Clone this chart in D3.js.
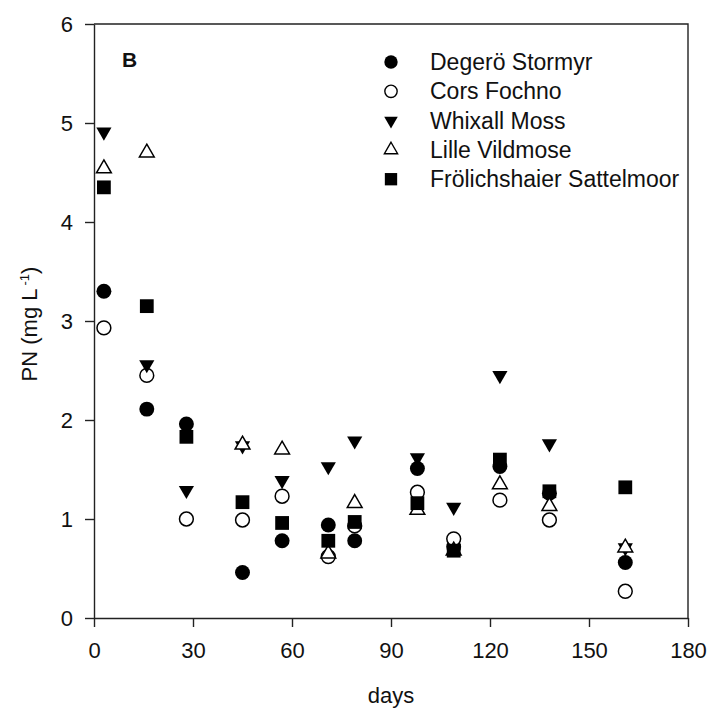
<!DOCTYPE html>
<html>
<head>
<meta charset="utf-8">
<script src="https://cdn.jsdelivr.net/npm/d3@7"></script>
<style>
  body { margin: 0; background: #fff; }
  svg text { font-family: "Liberation Sans", Arial, sans-serif; fill: #111; }
</style>
</head>
<body>
<div id="chart"></div>
<script>
// sampling days
var days = [3, 16, 28, 45, 57, 71, 79, 98, 109, 123, 138, 161];

// PN values per site (mg L-1), null = not visible in the figure
var degero = [3.30, 2.11, 1.96, 0.46, 0.78, 0.94, 0.78, 1.51, 0.72, 1.53, 1.26, 0.56];
var corsFochno = [2.93, 2.45, 1.00, 0.99, 1.23, 0.62, 0.93, 1.27, 0.80, 1.19, 0.99, 0.27];
var whixall = [4.91, 2.56, 1.29, 1.74, 1.39, 1.53, 1.79, 1.62, 1.12, 2.45, 1.76, 0.71];
var lilleVildmose = [4.54, 4.70, null, 1.75, 1.70, 0.65, 1.16, 1.09, 0.68, 1.35, 1.13, 0.71];
var frolichshaier = [4.35, 3.15, 1.83, 1.17, 0.96, 0.78, 0.97, 1.16, 0.68, 1.60, 1.28, 1.32];

var seriesNames = ["Degerö Stormyr", "Cors Fochno", "Whixall Moss", "Lille Vildmose", "Frölichshaier Sattelmoor"];
var seriesValues = [degero, corsFochno, whixall, lilleVildmose, frolichshaier];

var xTicks = [0, 30, 60, 90, 120, 150, 180];
var yTicks = [0, 1, 2, 3, 4, 5, 6];

// marker style for each series
var markers = [
  {type: d3.symbolCircle, size: 175, filled: true, rotate: 0},
  {type: d3.symbolCircle, size: 150, filled: false, rotate: 0},
  {type: d3.symbolTriangle, size: 100, filled: true, rotate: 180},
  {type: d3.symbolTriangle, size: 95, filled: false, rotate: 0},
  {type: d3.symbolSquare, size: 190, filled: true, rotate: 0}
];

function draw() {
  var width = 709, height = 711;
  var m = {left: 94, right: 688, top: 24, bottom: 618};

  var svg = d3.select("#chart").append("svg")
      .attr("width", width)
      .attr("height", height);

  var x = d3.scaleLinear().domain([0, 180]).range([m.left, m.right]);
  var y = d3.scaleLinear().domain([0, 6]).range([m.bottom, m.top]);

  // frame on top and right
  svg.append("path")
      .attr("d", "M" + m.left + "," + m.top + "H" + m.right + "V" + m.bottom)
      .attr("fill", "none")
      .attr("stroke", "#222")
      .attr("stroke-width", 1.4);

  // x axis
  var xAxis = svg.append("g")
      .attr("transform", "translate(0," + m.bottom + ")")
      .call(d3.axisBottom(x).tickValues(xTicks).tickFormat(d3.format("d"))
        .tickSize(9).tickSizeOuter(0).tickPadding(15));

  // y axis
  var yAxis = svg.append("g")
      .attr("transform", "translate(" + m.left + ",0)")
      .call(d3.axisLeft(y).tickValues(yTicks).tickFormat(d3.format("d"))
        .tickSize(9).tickSizeOuter(0).tickPadding(12));

  [xAxis, yAxis].forEach(function(a) {
    a.selectAll("path, line").attr("stroke", "#222").attr("stroke-width", 1.4);
    a.selectAll("text")
        .style("font-family", "Liberation Sans, Arial, sans-serif")
        .style("font-size", "22px")
        .attr("fill", "#111");
  });

  // axis titles
  svg.append("text")
      .attr("x", (m.left + m.right) / 2)
      .attr("y", 703)
      .attr("text-anchor", "middle")
      .style("font-size", "22px")
      .text("days");

  var ylab = svg.append("text")
      .attr("transform", "translate(37," + ((m.top + m.bottom) / 2 + 3) + ") rotate(-90)")
      .attr("text-anchor", "middle")
      .style("font-size", "22px");
  ylab.append("tspan").text("PN (mg L");
  ylab.append("tspan").attr("dx", 3).attr("dy", -8).style("font-size", "13px").text("-1");
  ylab.append("tspan").attr("dy", 8).text(")");

  // panel letter
  svg.append("text")
      .attr("x", 122)
      .attr("y", 67)
      .style("font-size", "21px")
      .style("font-weight", "bold")
      .text("B");

  // data points
  seriesValues.forEach(function(vals, s) {
    var mk = markers[s];
    var pts = vals.map(function(v, i) { return {day: days[i], value: v}; })
                  .filter(function(d) { return d.value !== null; });
    svg.append("g")
      .selectAll("path")
      .data(pts)
      .enter().append("path")
        .attr("d", d3.symbol().type(mk.type).size(mk.size)())
        .attr("transform", function(d) {
          return "translate(" + x(d.day) + "," + y(d.value) + ") rotate(" + mk.rotate + ")";
        })
        .attr("fill", mk.filled ? "#000" : "#fff")
        .attr("stroke", "#000")
        .attr("stroke-width", mk.filled ? 0 : 1.5);
  });

  // legend
  var legend = svg.append("g");
  seriesNames.forEach(function(name, s) {
    var mk = markers[s];
    var cy = 62 + s * 29.3;
    legend.append("path")
        .attr("d", d3.symbol().type(mk.type).size(mk.size * 0.8)())
        .attr("transform", "translate(391," + cy + ") rotate(" + mk.rotate + ")")
        .attr("fill", mk.filled ? "#000" : "#fff")
        .attr("stroke", "#000")
        .attr("stroke-width", mk.filled ? 0 : 1.4);
    legend.append("text")
        .attr("x", 430)
        .attr("y", cy + 8)
        .style("font-size", "23px")
        .text(name);
  });
}

draw();
</script>
</body>
</html>
